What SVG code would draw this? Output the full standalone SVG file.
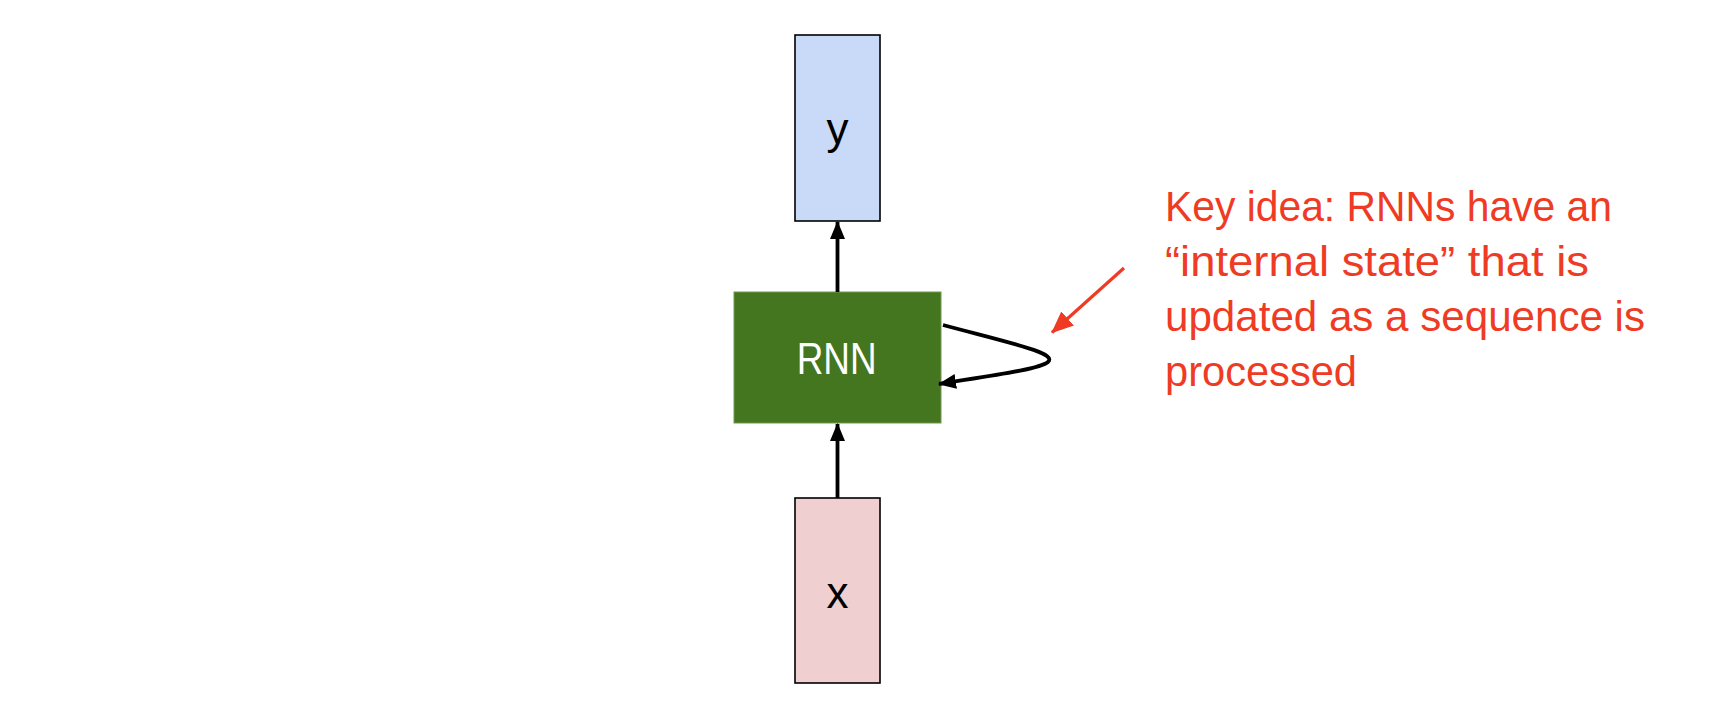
<svg xmlns="http://www.w3.org/2000/svg" width="1718" height="706" viewBox="0 0 1718 706">
<style>
.box{stroke:#000;stroke-width:1.6}
.lbl{font-family:"Liberation Sans",Arial,sans-serif;font-size:44px;text-anchor:middle;fill:#000}
.note{font-family:"Liberation Sans",Arial,sans-serif;font-size:42px;fill:#ef3b24}
.edge{stroke:#000;stroke-width:3.8;fill:none}
</style>
<defs>
<marker id="ah" markerUnits="userSpaceOnUse" markerWidth="18" markerHeight="18" viewBox="0 0 18 18" refX="17" refY="9" orient="auto">
<path d="M0,1.5 L18,9 L0,16.5 Z" fill="#000"/>
</marker>
<marker id="ahr" markerUnits="userSpaceOnUse" markerWidth="22" markerHeight="22" viewBox="0 0 22 22" refX="21" refY="11" orient="auto">
<path d="M0,1.5 L22,11 L0,20.5 Z" fill="#ef3b24"/>
</marker>
</defs>
<rect width="1718" height="706" fill="#fff"/>
<g id="node-y">
<rect class="box" x="795" y="35" width="85" height="186" fill="#c9daf8"/>
<text class="lbl" x="837.5" y="144">y</text>
</g>
<g id="node-rnn">
<rect x="734" y="292" width="207" height="131" fill="#44751f" stroke="#6a9a50" stroke-width="1"/>
<text x="836.7" y="374" font-family="'Liberation Sans',Arial,sans-serif" font-size="44" fill="#fff" text-anchor="middle" textLength="80" lengthAdjust="spacingAndGlyphs">RNN</text>
</g>
<g id="node-x">
<rect class="box" x="795" y="498" width="85" height="185" fill="#efcfcf"/>
<text class="lbl" x="837.5" y="608">x</text>
</g>
<g id="connectors">
<line class="edge" x1="837.5" y1="292" x2="837.5" y2="222" marker-end="url(#ah)"/>
<line class="edge" x1="837.5" y1="498" x2="837.5" y2="424" marker-end="url(#ah)"/>
<path class="edge" d="M943,325 C1010,343 1058,353 1048,362 C1040,369 995,375 939,384" marker-end="url(#ah)"/>
<line x1="1124" y1="268" x2="1052" y2="332.5" stroke="#ef3b24" stroke-width="3.2" marker-end="url(#ahr)"/>
</g>
<g id="note">
<text class="note" x="1165" y="221" textLength="447" lengthAdjust="spacingAndGlyphs">Key idea: RNNs have an</text>
<text class="note" x="1165" y="276" textLength="424" lengthAdjust="spacingAndGlyphs">“internal state” that is</text>
<text class="note" x="1165" y="331" textLength="480" lengthAdjust="spacingAndGlyphs">updated as a sequence is</text>
<text class="note" x="1165" y="386" textLength="192" lengthAdjust="spacingAndGlyphs">processed</text>
</g>
</svg>
